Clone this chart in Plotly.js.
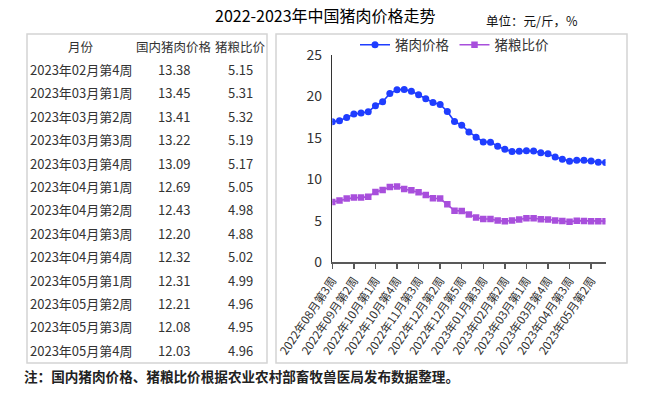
<!DOCTYPE html>
<html>
<head>
<meta charset="utf-8">
<script src="https://cdn.plot.ly/plotly-3.0.1.min.js"></script>
<style>
html,body{margin:0;padding:0;background:#fff;}
#chart{width:656px;height:394px;}
</style>
</head>
<body>
<div id="chart"></div>
<script>
// ---- data ----
const weeks = [
  "2022年08月第3周","2022年08月第4周","2022年09月第1周","2022年09月第2周","2022年09月第3周","2022年09月第4周",
  "2022年10月第1周","2022年10月第2周","2022年10月第3周","2022年10月第4周","2022年11月第1周","2022年11月第2周",
  "2022年11月第3周","2022年11月第4周","2022年12月第1周","2022年12月第2周","2022年12月第3周","2022年12月第4周",
  "2022年12月第5周","2023年01月第1周","2023年01月第2周","2023年01月第3周","2023年01月第4周","2023年02月第1周",
  "2023年02月第2周","2023年02月第3周","2023年02月第4周","2023年03月第1周","2023年03月第2周","2023年03月第3周",
  "2023年03月第4周","2023年04月第1周","2023年04月第2周","2023年04月第3周","2023年04月第4周","2023年05月第1周",
  "2023年05月第2周","2023年05月第3周","2023年05月第4周"
];
const porkPrice = [
  16.94, 17.06, 17.47, 17.87, 18.00, 18.15, 18.88, 19.36, 20.35, 20.80, 20.85, 20.63, 20.20,
  19.72, 19.28, 19.03, 18.18, 16.97, 16.53, 15.72, 15.07, 14.52, 14.49, 14.00, 13.62, 13.36,
  13.38, 13.45, 13.41, 13.22, 13.09, 12.69, 12.43, 12.20, 12.32, 12.31, 12.21, 12.08, 12.03
];
const hogGrainRatio = [
  7.27, 7.44, 7.68, 7.80, 7.80, 7.92, 8.49, 8.73, 9.09, 9.13, 8.85, 8.69, 8.45,
  8.13, 7.73, 7.68, 7.00, 6.23, 6.20, 5.75, 5.39, 5.23, 5.23, 5.03, 4.95, 5.03,
  5.15, 5.31, 5.32, 5.19, 5.17, 5.05, 4.98, 4.88, 5.02, 4.99, 4.96, 4.95, 4.96
];
const tickWeeks = [
  "2022年08月第3周","2022年09月第2周","2022年10月第1周","2022年10月第4周","2022年11月第3周",
  "2022年12月第2周","2022年12月第5周","2023年01月第3周","2023年02月第2周","2023年03月第1周",
  "2023年03月第4周","2023年04月第3周","2023年05月第2周"
];
const seriesNames = ["猪肉价格", "猪粮比价"];
const tableHeader = ["月份", "国内猪肉价格", "猪粮比价"];
const tableStart = 26;
const titleText = "2022-2023年中国猪肉价格走势";
const unitText = "单位：元/斤，%";
const noteText = "注：国内猪肉价格、猪粮比价根据农业农村部畜牧兽医局发布数据整理。";

// ---- layout helpers (pixel -> paper) ----
const W = 656, H = 394;
const X = px => px / W;
const Y = py => 1 - py / H;
const FONT = '"Noto Sans CJK SC", "Noto Sans", sans-serif';

const annotations = [];
annotations.push({xref:'paper', yref:'paper', x:X(325), y:Y(15), text:titleText, showarrow:false,
  xanchor:'center', yanchor:'middle', font:{family:FONT, size:16, color:'#000'}});
annotations.push({xref:'paper', yref:'paper', x:X(484), y:Y(21), text:unitText, showarrow:false,
  xanchor:'left', yanchor:'middle', font:{family:FONT, size:12.5, color:'#111'}});
annotations.push({xref:'paper', yref:'paper', x:X(22), y:Y(376), text:'<b>' + noteText + '</b>', showarrow:false,
  xanchor:'left', yanchor:'middle', font:{family:FONT, size:13.6, color:'#222'}});

// table
const colX = [81, 174, 240];
tableHeader.forEach((h, i) => {
  annotations.push({xref:'paper', yref:'paper', x:X(colX[i]), y:Y(46.7), text:h, showarrow:false,
    xanchor:'center', yanchor:'middle', font:{family:FONT, size:12.5, color:'#333'}});
});
const rowWeeks = weeks.slice(tableStart);
rowWeeks.forEach((wk, k) => {
  const py = 69.5 + 23.4 * k;
  const cells = [wk, porkPrice[tableStart + k].toFixed(2), hogGrainRatio[tableStart + k].toFixed(2)];
  cells.forEach((c, i) => {
    annotations.push({xref:'paper', yref:'paper', x:X(colX[i]), y:Y(py), text:c, showarrow:false,
      xanchor:'center', yanchor:'middle', font:{family:FONT, size:13, color:'#333'}});
  });
});

const shapes = [
  {type:'rect', xref:'paper', yref:'paper', x0:X(27), x1:X(267), y0:Y(363), y1:Y(34),
    line:{color:'#d4d4d4', width:1.5}},
  {type:'rect', xref:'paper', yref:'paper', x0:X(276), x1:X(627), y0:Y(363), y1:Y(34),
    line:{color:'#d4d4d4', width:1.5}}
];

const traces = [
  {x: weeks, y: porkPrice, name: seriesNames[0], type:'scatter', mode:'lines+markers',
    line:{color:'#1f3dff', width:1.6}, marker:{symbol:'circle', size:7, color:'#1f3dff'}},
  {x: weeks, y: hogGrainRatio, name: seriesNames[1], type:'scatter', mode:'lines+markers',
    line:{color:'#a84fdc', width:1.6}, marker:{symbol:'square', size:6.5, color:'#a84fdc'}}
];

const layout = {
  width: W, height: H,
  margin:{l:0, r:0, t:0, b:0},
  paper_bgcolor:'#fff', plot_bgcolor:'rgba(0,0,0,0)',
  showlegend: true,
  legend:{orientation:'h', x:X(355), y:Y(45), xanchor:'left', yanchor:'middle',
    font:{family:FONT, size:13.5, color:'#333'}, bgcolor:'rgba(0,0,0,0)', itemwidth:30, tracegroupgap:0},
  xaxis:{
    type:'category', domain:[X(332.3), X(605.5)], range:[0, weeks.length - 1],
    tickmode:'array', tickvals: tickWeeks, ticktext: tickWeeks, tickangle:-56,
    ticks:'outside', ticklen:5, tickwidth:1.5, tickcolor:'#595959',
    showline:true, linecolor:'#595959', linewidth:2, showgrid:false, zeroline:false,
    tickfont:{family:FONT, size:11.5, color:'#333'}, fixedrange:true
  },
  yaxis:{
    domain:[Y(262.3), Y(55)], range:[0, 25], tickvals:[0,5,10,15,20,25],
    ticks:'', showline:true, linecolor:'#333', linewidth:1.5, showgrid:false, zeroline:false,
    ticklabelstandoff:6,
    tickfont:{family:FONT, size:14, color:'#333'}, fixedrange:true
  },
  annotations: annotations,
  shapes: shapes
};

Plotly.newPlot('chart', traces, layout, {displayModeBar:false, staticPlot:true});
</script>
</body>
</html>
